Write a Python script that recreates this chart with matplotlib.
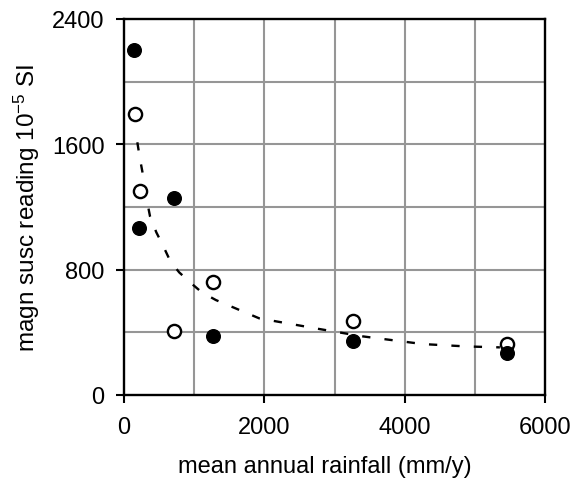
import matplotlib
matplotlib.use("Agg")
import matplotlib.pyplot as plt

plt.rcParams.update({
    "font.family": "Liberation Sans",
    "mathtext.fontset": "custom",
    "mathtext.rm": "Liberation Sans",
    "mathtext.it": "Liberation Sans:italic",
    "mathtext.bf": "Liberation Sans:bold",
})

# filled circles
filled_x = [143, 714, 214, 1271, 3257, 5457]
filled_y = [2200, 1260, 1066, 376, 345, 268]

# open circles
open_x = [157, 228, 714, 1271, 3257, 5457]
open_y = [1793, 1302, 408, 721, 472, 325]

# dashed trend line
trend_x = [190, 224, 262, 310, 371, 461, 561, 657, 786, 952, 1110, 1310,
           1929, 2786, 3405, 4262, 4881, 5357]
trend_y = [1613, 1517, 1425, 1280, 1140, 1038, 949, 857, 783, 715, 655, 606,
           489, 421, 374, 325, 310, 304]

x_ticks = [0, 2000, 4000, 6000]
y_ticks = [0, 800, 1600, 2400]

fig = plt.figure(figsize=(5.7, 4.81), dpi=100)
ax = fig.add_axes([124 / 570, 1 - 396 / 481, 421 / 570, 376 / 481])

ax.set_xlim(0, 6000)
ax.set_ylim(0, 2400)

# gridlines every 1000 / 400
for gx in range(1000, 6000, 1000):
    ax.axvline(gx, color="#969696", lw=1.5, zorder=1)
for gy in range(400, 2400, 400):
    ax.axhline(gy, color="#969696", lw=1.5, zorder=1)

ax.plot(trend_x, trend_y, color="black", lw=1.7, ls=(0, (3.5, 6)), zorder=2)
ax.plot(open_x, open_y, "o", ms=9.5, mfc="white", mec="black", mew=1.7,
        ls="none", zorder=3)
ax.plot(filled_x, filled_y, "o", ms=9.8, mfc="black", mec="black",
        ls="none", zorder=4)

ax.set_xticks(x_ticks)
ax.set_yticks(y_ticks)
ax.tick_params(direction="out", length=6, width=1.5, labelsize=17)
ax.tick_params(axis="y", pad=8)
ax.tick_params(axis="x", pad=9)
for s in ax.spines.values():
    s.set_linewidth(1.7)

ax.set_xlabel("mean annual rainfall (mm/y)", fontsize=17)
ax.set_ylabel("magn susc reading 10$^{-5}$ SI", fontsize=17.5)
ax.xaxis.set_label_coords(0.476, -0.16)
ax.yaxis.set_label_coords(-0.195, 0.5)

fig.savefig("out.png", dpi=100)
